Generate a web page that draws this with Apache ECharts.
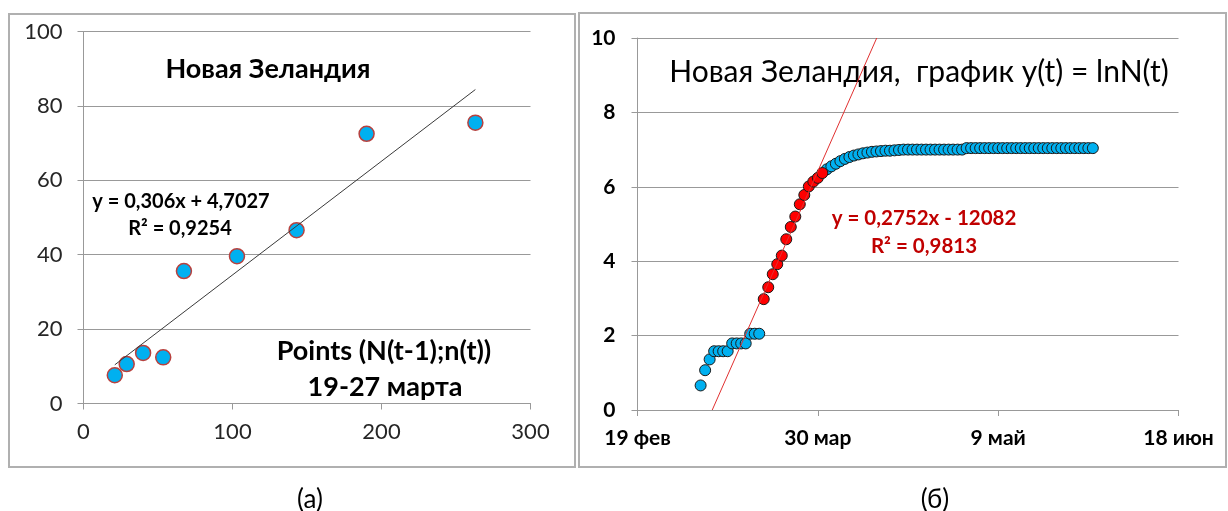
<!DOCTYPE html>
<html><head><meta charset="utf-8">
<script src="https://cdn.jsdelivr.net/npm/echarts@6/dist/echarts.min.js"></script>
<style>html,body{margin:0;padding:0;background:#fff}#c{width:1228px;height:511px}</style>
</head><body><div id="c"></div><script>
// ---------- Panel (а): points (N(t-1); n(t)), 19-27 March ----------
const leftX = [21, 29, 40, 53.5, 67.4, 103, 143, 190, 263];
const leftY = [7.6, 10.6, 13.6, 12.4, 35.6, 39.6, 46.6, 72.5, 75.5];

// ---------- Panel (б): y(t) = ln N(t), daily points ----------
// x values are Excel date serials (43880 = 19 Feb 2020)
const dateTickLabels = ['19 фев', '30 мар', '9 май', '18 июн'];
const lowStart = 43894;      // 4 Mar
const lowVals = [0.66, 1.07, 1.36, 1.58, 1.58, 1.58, 1.58, 1.79, 1.79, 1.79, 1.79, 2.05, 2.05, 2.05];
const redStart = 43908;      // 18 Mar
const redVals = [2.98, 3.30, 3.65, 3.92, 4.15, 4.59, 4.92, 5.20, 5.53, 5.78, 6.01, 6.14, 6.24, 6.37];
const plateauStart = 43922;  // 1 Apr
const plateauVals = [6.47, 6.55, 6.62, 6.69, 6.75, 6.80, 6.84, 6.87, 6.90, 6.92, 6.94, 6.95, 6.96, 6.97, 6.97, 6.98, 6.99,
  7.00, 7.00, 7.00, 7.00, 7.00, 7.00, 7.00, 7.00, 7.00, 7.00, 7.00, 7.00, 7.00, 7.00,
  7.04, 7.04, 7.04, 7.04, 7.04, 7.04, 7.04, 7.04, 7.04, 7.04, 7.04, 7.04, 7.04, 7.04, 7.04,
  7.04, 7.04, 7.04, 7.04, 7.04, 7.04, 7.04, 7.04, 7.04, 7.04, 7.04, 7.04, 7.04, 7.04];

function fit(xs, ys) {
  const n = xs.length;
  const mx = xs.reduce((s, v) => s + v, 0) / n;
  const my = ys.reduce((s, v) => s + v, 0) / n;
  let sxy = 0, sxx = 0;
  for (let i = 0; i < n; i++) { sxy += (xs[i] - mx) * (ys[i] - my); sxx += (xs[i] - mx) * (xs[i] - mx); }
  const a = sxy / sxx;
  return { a: a, b: my - a * mx };
}
const seq = (start, vals) => vals.map((v, i) => [start + i, v]);

const leftFit = fit(leftX, leftY);
const lx0 = Math.min(...leftX), lx1 = Math.max(...leftX);
const leftTrend = [[lx0, leftFit.a * lx0 + leftFit.b], [lx1, leftFit.a * lx1 + leftFit.b]];

const redPts = seq(redStart, redVals);
const rightFit = fit(redPts.map(p => p[0]), redVals);
const rightTrend = [[(0 - rightFit.b) / rightFit.a, 0], [(10 - rightFit.b) / rightFit.a, 10]];

const FONT = 'Lato, "Open Sans", sans-serif';
const gridColor = '#999999';
function axisBase(extra) {
  return Object.assign({
    axisLine: { show: true, lineStyle: { color: gridColor, width: 1 } },
    axisTick: { show: true, length: 6, lineStyle: { color: gridColor } },
    splitLine: { show: false }
  }, extra);
}
function txt(x, y, text, font, fill) {
  return { type: 'text', x: x, y: y, silent: true,
    style: { text: text, font: font, fill: fill || '#000',
      textAlign: 'center', textVerticalAlign: 'middle', align: 'center', verticalAlign: 'middle' } };
}

const chart = echarts.init(document.getElementById('c'), null, { renderer: 'canvas' });
chart.setOption({
  animation: false,
  backgroundColor: '#fff',
  grid: [
    { left: 83.5, top: 31.5, right: 697.5, bottom: 107.5 },
    { left: 637.5, top: 38, right: 49.5, bottom: 101 }
  ],
  xAxis: [
    axisBase({ type: 'value', gridIndex: 0, min: 0, max: 300, interval: 100,
      axisLabel: { fontFamily: FONT, fontSize: 22, color: '#262626', margin: 17 } }),
    axisBase({ type: 'value', gridIndex: 1, min: 43880, max: 44000, interval: 40,
      axisLabel: { fontFamily: FONT, fontSize: 21, fontWeight: 'bold', color: '#000', margin: 18,
        formatter: v => dateTickLabels[Math.round((v - 43880) / 40)] } })
  ],
  yAxis: [
    axisBase({ type: 'value', gridIndex: 0, min: 0, max: 100, interval: 20,
      splitLine: { show: true, lineStyle: { color: gridColor, width: 1 } },
      axisLabel: { fontFamily: FONT, fontSize: 22, color: '#262626', margin: 21 } }),
    axisBase({ type: 'value', gridIndex: 1, min: 0, max: 10, interval: 2,
      splitLine: { show: true, lineStyle: { color: gridColor, width: 1 } },
      axisLabel: { fontFamily: FONT, fontSize: 21, fontWeight: 'bold', color: '#000', margin: 22 } })
  ],
  series: [
    { type: 'scatter', xAxisIndex: 0, yAxisIndex: 0, symbolSize: 15,
      data: leftX.map((x, i) => [x, leftY[i]]),
      itemStyle: { color: '#00b0f0', borderColor: '#b8413e', borderWidth: 1.5, opacity: 1 }, z: 2 },
    { type: 'line', xAxisIndex: 0, yAxisIndex: 0, data: leftTrend, symbol: 'none',
      lineStyle: { color: '#3a3a3a', width: 1 }, z: 3 },
    { type: 'scatter', xAxisIndex: 1, yAxisIndex: 1, symbolSize: 11,
      data: seq(lowStart, lowVals).concat(seq(plateauStart, plateauVals)),
      itemStyle: { color: '#00b0f0', borderColor: '#1a1a1a', borderWidth: 1, opacity: 1 }, z: 2 },
    { type: 'scatter', xAxisIndex: 1, yAxisIndex: 1, symbolSize: 11, data: redPts,
      itemStyle: { color: '#ff0000', borderColor: '#1a1a1a', borderWidth: 1, opacity: 1 }, z: 2 },
    { type: 'line', xAxisIndex: 1, yAxisIndex: 1, data: rightTrend, symbol: 'none',
      lineStyle: { color: '#e03030', width: 1 }, z: 3 }
  ],
  graphic: [
    { type: 'rect', shape: { x: 9, y: 14, width: 566, height: 453 },
      style: { fill: 'none', stroke: '#b0b0b0', lineWidth: 2 }, silent: true },
    { type: 'rect', shape: { x: 579, y: 13, width: 647, height: 454 },
      style: { fill: 'none', stroke: '#b0b0b0', lineWidth: 2 }, silent: true },
    txt(268, 69, 'Новая Зеландия', 'bold 27px ' + FONT),
    txt(181, 202, 'y = 0,306x + 4,7027', 'bold 20px ' + FONT),
    txt(180, 229, 'R² = 0,9254', 'bold 20px ' + FONT),
    txt(384, 351, 'Points (N(t-1);n(t))', 'bold 27px ' + FONT),
    txt(385, 387, '19-27 марта', 'bold 27px ' + FONT),
    txt(919, 72, 'Новая Зеландия,  график y(t) = lnN(t)', '30px ' + FONT),
    txt(924, 218, 'y = 0,2752x - 12082', 'bold 20.5px ' + FONT, '#c00000'),
    txt(924, 246, 'R² = 0,9813', 'bold 20.5px ' + FONT, '#c00000'),
    txt(310, 500, '(а)', '26px ' + FONT),
    txt(935, 500, '(б)', '26px ' + FONT)
  ]
});
</script></body></html>
